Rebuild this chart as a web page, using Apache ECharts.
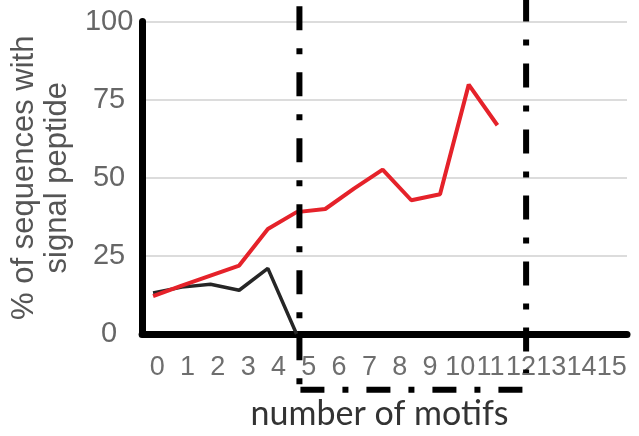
<!DOCTYPE html>
<html>
<head>
<meta charset="utf-8">
<script src="https://cdn.jsdelivr.net/npm/echarts@6/dist/echarts.min.js"></script>
<style>
html,body{margin:0;padding:0;background:#fff;}
#c{width:639px;height:436px;}
</style>
</head>
<body>
<div id="c"></div>
<script>
// Tick labels of the category axis
const categories = ['0','1','2','3','4','5','6','7','8','9','10','11','12','13','14','15'];
const yTicks = [0, 25, 50, 75, 100];
// Series values (index along the plotted line, value in %)
const redValues = [12.1, 15.5, 18.7, 21.9, 33.6, 39.0, 40.0, 46.5, 52.6, 42.8, 44.7, 79.8, 66.8];
const blackValues = [13.1, 15.0, 15.9, 14.0, 21.0, 0];
// Dash-dot box annotation (line-axis value, % value)
const boxLeftX = 5.1, boxRightX = 13.0;
const boxLeftY = [104.9, -16.2];
const boxRightY = [107.7, -12.5];
const boxBottomY = -17.8;

const chart = echarts.init(document.getElementById('c'), null, {renderer: 'canvas'});
const font = '"Liberation Sans", Arial, sans-serif';

const option = {
  animation: false,
  backgroundColor: '#fff',
  grid: {left: 142, right: 12, top: 21.5, bottom: 97.5, containLabel: false},
  xAxis: [
    {
      type: 'category',
      data: categories,
      boundaryGap: true,
      axisLine: {show: true, onZero: false, lineStyle: {color: '#000', width: 7}},
      axisTick: {show: false},
      axisLabel: {color: '#6e6e6e', fontSize: 27, fontFamily: font, margin: 20, interval: 0},
      splitLine: {show: false},
      name: 'number of motifs',
      nameLocation: 'middle',
      nameGap: 63,
      nameTextStyle: {color: '#333', fontSize: 34, fontFamily: 'Lato, "Open Sans", sans-serif', padding: [0, 10, 0, 0]}
    },
    {
      type: 'value',
      min: -0.383,
      max: 16.516,
      show: false
    }
  ],
  yAxis: {
    type: 'value',
    min: 0,
    max: 100,
    interval: 25,
    axisLine: {show: true, onZero: false, lineStyle: {color: '#000', width: 7}},
    axisTick: {show: false},
    axisLabel: {color: '#666', fontSize: 29, fontFamily: font, margin: 33, align: 'center', padding: [8, 0, 0, 0]},
    splitLine: {show: true, lineStyle: {color: '#dcdcdc', width: 2}},
    name: '% of sequences with\nsignal peptide',
    nameLocation: 'middle',
    nameRotate: 90,
    nameGap: 62,
    nameTextStyle: {color: '#555', fontSize: 31, fontFamily: font, lineHeight: 33, align: 'center'}
  },
  series: [
    {
      type: 'line',
      xAxisIndex: 1,
      data: blackValues.map((v, i) => [i, v]),
      symbol: 'none',
      lineStyle: {color: '#262626', width: 3.5},
      z: 3
    },
    {
      type: 'line',
      xAxisIndex: 1,
      data: redValues.map((v, i) => [i, v]),
      symbol: 'none',
      lineStyle: {color: '#e5222a', width: 4},
      z: 4
    }
  ]
};
chart.setOption(option);

function px(x, y) {
  return chart.convertToPixel({xAxisIndex: 1, yAxisIndex: 0}, [x, y]);
}
const dash = {stroke: '#000', lineWidth: 6, lineDash: [24, 18, 6, 18], lineCap: 'butt'};
const l1 = px(boxLeftX, boxLeftY[0]), l2 = px(boxLeftX, boxLeftY[1]);
const r1 = px(boxRightX, boxRightY[0]), r2 = px(boxRightX, boxRightY[1]);
const b1 = px(boxLeftX, boxBottomY), b2 = px(boxRightX, boxBottomY);
chart.setOption({
  graphic: [
    {type: 'line', z: 100, shape: {x1: l1[0], y1: l1[1], x2: l2[0], y2: l2[1]}, style: dash},
    {type: 'line', z: 100, shape: {x1: r1[0], y1: r1[1], x2: r2[0], y2: r2[1]}, style: dash},
    {type: 'line', z: 100, shape: {x1: b1[0] + 1, y1: b1[1], x2: b2[0] - 2, y2: b2[1]}, style: dash}
  ]
});
</script>
</body>
</html>
